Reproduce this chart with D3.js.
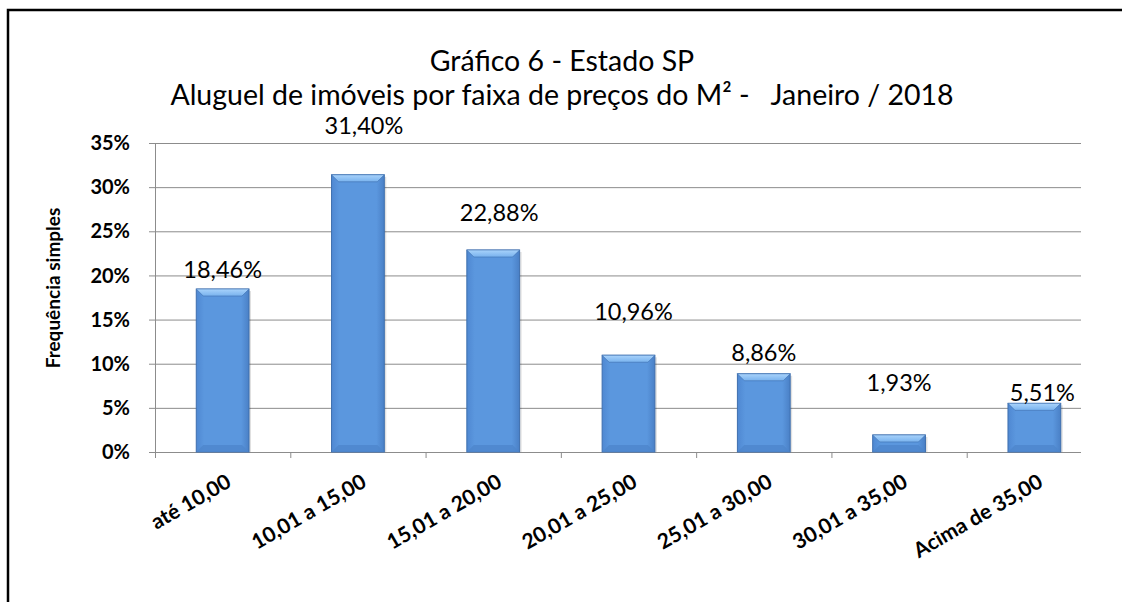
<!DOCTYPE html>
<html>
<head>
<meta charset="utf-8">
<script src="https://cdn.jsdelivr.net/npm/d3@7"></script>
<style>
  body { margin: 0; background: #fff; }
  svg { display: block; font-family: Lato, "Open Sans", sans-serif; }
</style>
</head>
<body>
<div class="chart-container"></div>
<script>
// Data
const categories = ["até 10,00", "10,01 a 15,00", "15,01 a 20,00", "20,01 a 25,00",
  "25,01 a 30,00", "30,01 a 35,00", "Acima de 35,00"];
const values = [18.46, 31.40, 22.88, 10.96, 8.86, 1.93, 5.51];
const valueLabels = ["18,46%", "31,40%", "22,88%", "10,96%", "8,86%", "1,93%", "5,51%"];
const yTicks = [0, 5, 10, 15, 20, 25, 30, 35];
const titleLines = ["Gráfico 6 - Estado SP", "Aluguel de imóveis por faixa de preços do M² -   Janeiro / 2018"];
const yTitle = "Frequência simples";

// hand placed data labels in the original (px above bar top, px right of centre)
const labelLift = [19, 49, 37, 44, 21, 52, 11];
const labelShift = [0, 6, 6, 5, 0, 0, 8];

const width = 1122;
const height = 602;
const plotLeft = 155, plotRight = 1102, plotTop = 143, plotBottom = 452;
const gridEnd = 1081;

const svg = d3.select(".chart-container")
  .append("svg")
  .attr("width", width)
  .attr("height", height);

// bar gradient
const defs = svg.append("defs");
const grad = defs.append("linearGradient").attr("id", "barFill")
  .attr("x1", 0).attr("x2", 1).attr("y1", 0).attr("y2", 0);
grad.append("stop").attr("offset", "0%").attr("stop-color", "#4f88d2");
grad.append("stop").attr("offset", "15%").attr("stop-color", "#5b97de");
grad.append("stop").attr("offset", "85%").attr("stop-color", "#5b97de");
grad.append("stop").attr("offset", "100%").attr("stop-color", "#4a80c6");
const topGrad = defs.append("linearGradient").attr("id", "bevelTop")
  .attr("x1", 0).attr("x2", 0).attr("y1", 0).attr("y2", 1);
topGrad.append("stop").attr("offset", "0%").attr("stop-color", "#a9d3fb");
topGrad.append("stop").attr("offset", "100%").attr("stop-color", "#78b2ee");

// frame
svg.append("path")
  .attr("d", `M8,${height} L8,10 L${width},10`)
  .attr("fill", "none")
  .attr("stroke", "#000")
  .attr("stroke-width", 2.5);

// title
svg.selectAll(".title")
  .data(titleLines)
  .enter()
  .append("text")
  .attr("class", "title")
  .attr("x", 562)
  .attr("y", (d, i) => 71 + i * 34)
  .attr("text-anchor", "middle")
  .attr("font-size", 28.5)
  .style("white-space", "pre")
  .attr("fill", "#000")
  .text((d) => d);

const x = d3.scaleBand()
  .domain(categories)
  .range([plotLeft, plotRight])
  .paddingInner(0.61)
  .paddingOuter(0.305);
const step = x.step();

const y = d3.scaleLinear()
  .domain([0, 35])
  .range([plotBottom, plotTop]);

// gridlines
svg.selectAll(".grid")
  .data(yTicks)
  .enter()
  .append("line")
  .attr("x1", plotLeft - 6)
  .attr("x2", gridEnd)
  .attr("y1", (d) => y(d) + 0.5)
  .attr("y2", (d) => y(d) + 0.5)
  .attr("stroke", "#8c8c8c")
  .attr("stroke-width", 1);

// y axis line
svg.append("line")
  .attr("x1", plotLeft + 0.5).attr("x2", plotLeft + 0.5)
  .attr("y1", plotTop).attr("y2", plotBottom + 6)
  .attr("stroke", "#8c8c8c");

// category ticks (last one falls outside the visible plot)
svg.selectAll(".xtick")
  .data(categories.slice(0, -1))
  .enter()
  .append("line")
  .attr("x1", (d) => x(d) - x.paddingInner() * step / 2 + step + 0.5)
  .attr("x2", (d) => x(d) - x.paddingInner() * step / 2 + step + 0.5)
  .attr("y1", plotBottom)
  .attr("y2", plotBottom + 6)
  .attr("stroke", "#8c8c8c");

// y tick labels
svg.selectAll(".ylab")
  .data(yTicks)
  .enter()
  .append("text")
  .attr("x", 130)
  .attr("y", (d) => y(d))
  .attr("dy", "0.36em")
  .attr("text-anchor", "end")
  .attr("font-size", 20)
  .attr("font-weight", "bold")
  .text((d) => d + "%");

// y title
svg.append("text")
  .attr("transform", "translate(60,288) rotate(-90)")
  .attr("text-anchor", "middle")
  .attr("font-size", 19)
  .attr("font-weight", "bold")
  .text(yTitle);

// bars
const bw = x.bandwidth();
const bev = 7;
const bars = svg.selectAll(".bar")
  .data(values)
  .enter()
  .append("g")
  .attr("class", "bar");

bars.append("rect")
  .attr("x", (d, i) => x(categories[i]) + 2)
  .attr("y", (d) => y(d) + 2)
  .attr("width", bw)
  .attr("height", (d) => plotBottom - y(d) - 2)
  .attr("fill", "#000")
  .attr("opacity", 0.12);

bars.append("rect")
  .attr("x", (d, i) => x(categories[i]))
  .attr("y", (d) => y(d))
  .attr("width", bw)
  .attr("height", (d) => plotBottom - y(d))
  .attr("fill", "url(#barFill)")
  .attr("stroke", "#3e6fae")
  .attr("stroke-width", 1);

bars.append("path")
  .attr("d", (d, i) => {
    const x0 = x(categories[i]), x1 = x0 + bw, y0 = y(d);
    const b = Math.min(bev, (plotBottom - y0) / 2);
    return `M${x0},${y0} L${x1},${y0} L${x1 - b},${y0 + b} L${x0 + b},${y0 + b} Z`;
  })
  .attr("fill", "url(#bevelTop)")
  .attr("stroke", "#3e6fae")
  .attr("stroke-width", 0.6);

bars.append("path")
  .attr("d", (d, i) => {
    const x0 = x(categories[i]), x1 = x0 + bw, y0 = y(d);
    const b = Math.min(bev, (plotBottom - y0) / 2);
    return `M${x0},${plotBottom} L${x1},${plotBottom} L${x1 - b},${plotBottom - b} L${x0 + b},${plotBottom - b} Z`;
  })
  .attr("fill", "#4d86cc")
  .attr("opacity", 0.8);

// value labels
svg.selectAll(".vlab")
  .data(values)
  .enter()
  .append("text")
  .attr("x", (d, i) => x(categories[i]) + bw / 2 + labelShift[i])
  .attr("y", (d, i) => y(d) - labelLift[i])
  .attr("dy", "0.36em")
  .attr("text-anchor", "middle")
  .attr("font-size", 23.5)
  .attr("fill", "#000")
  .text((d, i) => valueLabels[i]);

// category labels
svg.selectAll(".xlab")
  .data(categories)
  .enter()
  .append("text")
  .attr("transform", (d) => `translate(${x(d) + bw / 2 + 10},486) rotate(-30)`)
  .attr("text-anchor", "end")
  .attr("font-size", 21)
  .attr("font-weight", "bold")
  .text((d) => d);
</script>
</body>
</html>
